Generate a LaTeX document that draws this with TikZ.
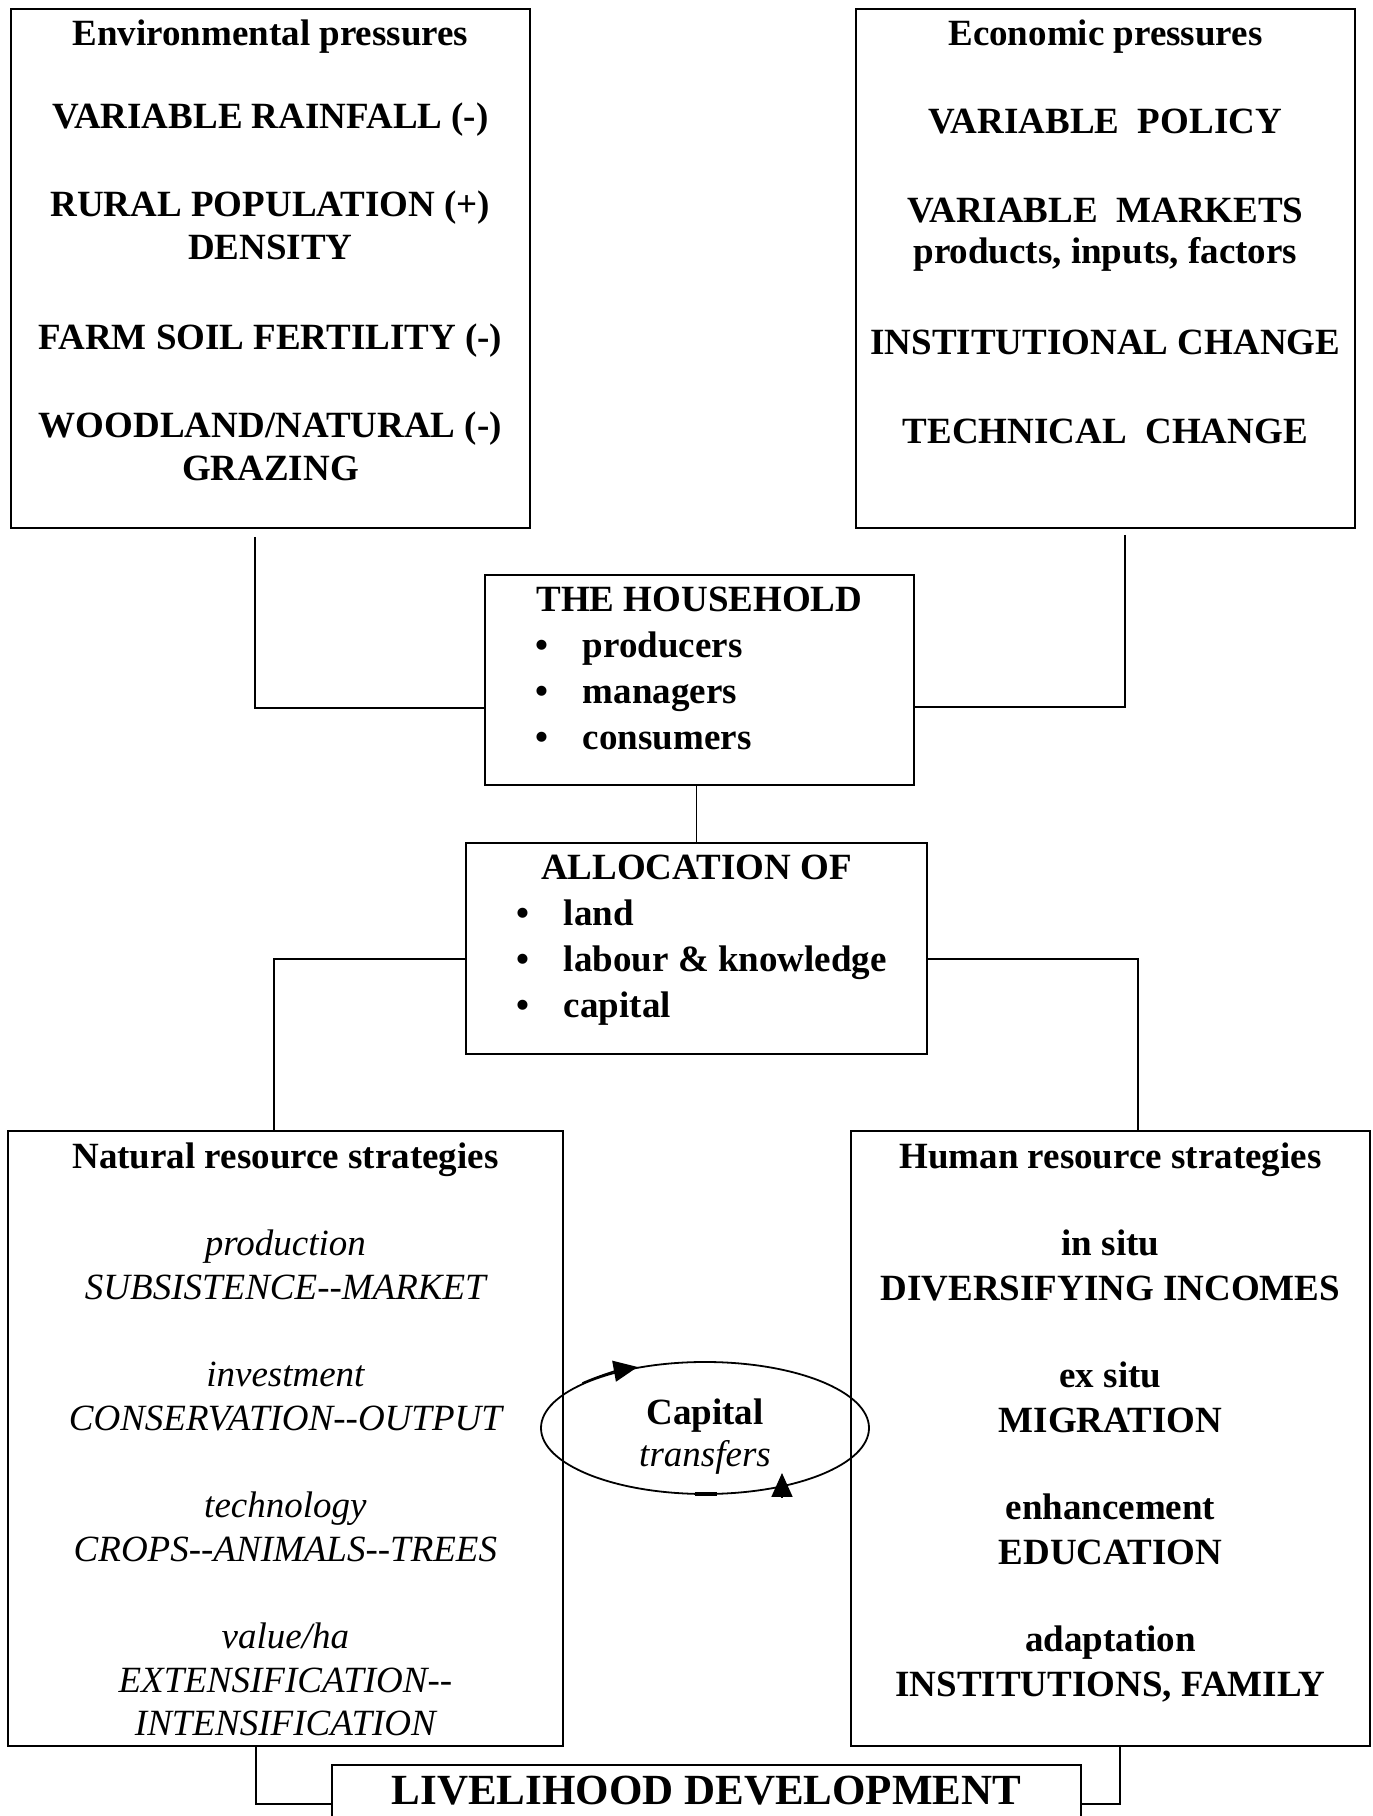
\documentclass[tikz,border=0pt]{standalone}
\usepackage{fontspec}
\setmainfont{Liberation Serif}[Ligatures=TeXOff]
\usetikzlibrary{arrows.meta}
\newcommand{\panel}[5]{\parbox[t][#2][t]{#1}{\centering\fontsize{#3}{#4}\selectfont\rule{0pt}{37pt}#5}}
\newcommand{\itm}[1]{\makebox[\linewidth][l]{\hspace*{51pt}\makebox[47pt][l]{\textbullet}#1}}
\begin{document}
\begin{tikzpicture}[x=1pt,y=1pt,line width=1.8pt,>={Triangle[length=24pt,width=21pt]},
		box/.style={draw,inner sep=0pt,anchor=north west,font=\bfseries}]
				\useasboundingbox (0,0) rectangle (1373,1816);
				\node[box] (env) at (10,1808) {\panel{519pt}{519pt}{37}{43}{Environmental pressures\\[40pt] VARIABLE RAINFALL (-)\\[45pt] RURAL POPULATION (+)\\ DENSITY\\[47pt] FARM SOIL FERTILITY (-)\\[45pt] WOODLAND/NATURAL (-)\\ GRAZING}};
				\node[box] (eco) at (855,1808) {\panel{499pt}{519pt}{37}{43}{Economic pressures\\[45pt] VARIABLE\ \ POLICY\\[46pt] VARIABLE\ \ MARKETS\\[-2pt] products, inputs, factors\\[48pt] INSTITUTIONAL CHANGE\\[46pt] TECHNICAL\ \ CHANGE}};
				\node[box] (hh) at (484,1242) {\panel{429pt}{210pt}{37}{46}{THE HOUSEHOLD\\ \itm{producers}\\ \itm{managers}\\ \itm{consumers}}};
				\node[box] (al) at (465,974) {\panel{461pt}{211pt}{37}{46}{ALLOCATION OF\\ \itm{land}\\ \itm{labour \& knowledge}\\ \itm{capital}}};
				\node[box] (nat) at (7,686) {\panel{555pt}{615pt}{37}{44.5}{\rule{0pt}{38pt}Natural resource strategies\\[42pt] \mdseries\itshape production\\ SUBSISTENCE--MARKET\\[42pt] investment\\ CONSERVATION--OUTPUT\\[42pt] technology\\ CROPS--ANIMALS--TREES\\[42pt] value/ha\\ EXTENSIFICATION--\\[-2pt] INTENSIFICATION}};
				\node[box] (hum) at (850,686) {\panel{519pt}{615pt}{37}{45}{\rule{0pt}{38pt}Human resource strategies\\[42pt] in situ\\ DIVERSIFYING INCOMES\\[42pt] ex situ\\ MIGRATION\\[42pt] enhancement\\ EDUCATION\\[42pt] adaptation\\ INSTITUTIONS, FAMILY}};
				\node[box] (live) at (331,52) {\panel{749pt}{78pt}{43}{48}{\rule{0pt}{40pt}LIVELIHOOD DEVELOPMENT}};
				\node[font=\fontsize{37}{42}\selectfont,align=center] (cap) at (705,379) {\textbf{Capital}\\\textit{transfers}};
				\draw ([yshift=9]cap.center) ellipse [x radius=164,y radius=66];
				\draw[->] ([shift={(-122.5,53.9)}]cap.center) arc [start angle=138,end angle=114,x radius=164,y radius=66];
				\draw[->] ([shift={(77,-60)}]cap.center) -- ++(0,24);
				\draw[line width=3.5pt] ([shift={(-10,-57)}]cap.center) -- ++(22,0);
				\draw ([shift={(-15.5,-8)}]env.south) |- ([yshift=-28]hh.west);
				\draw ([shift={(19.5,-6)}]eco.south) |- ([yshift=-27]hh.east);
				\draw (hh.south -| al.north) -- (al.north);
				\draw ([yshift=-10.5]al.west) -| ([xshift=-11.5]nat.north);
				\draw ([yshift=-10.5]al.east) -| ([xshift=27.5]hum.north);
				\draw ([xshift=-29.5]nat.south) |- (live.west);
				\draw ([xshift=9.5]hum.south) |- (live.east);
			\end{tikzpicture}
\end{document}
